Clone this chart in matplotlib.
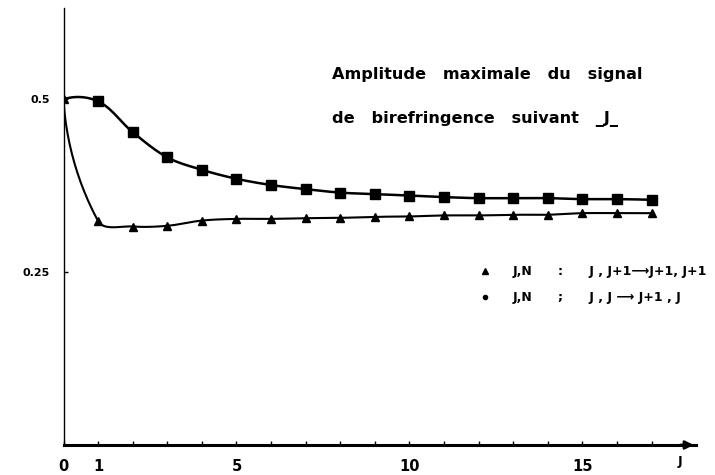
import numpy as np
import matplotlib
matplotlib.use("Agg")
import matplotlib.pyplot as plt

# ---- data ----
J = list(range(0, 18))
amp_JJ = [0.500, 0.497, 0.4525, 0.416, 0.398, 0.385, 0.376, 0.370, 0.365,
          0.3628, 0.3608, 0.3585, 0.357, 0.357, 0.357, 0.3556, 0.3556, 0.3546]
amp_JJ1 = [0.500, 0.324, 0.316, 0.317, 0.3246, 0.327, 0.327, 0.328, 0.3285,
           0.330, 0.3305, 0.332, 0.332, 0.333, 0.333, 0.3353, 0.3353, 0.3353]
xticks = [0, 1, 5, 10, 15]
yticks = [0.25, 0.5]
ytick_labels = ["0.25", "0.5"]
title_lines = ["Amplitude   maximale   du   signal", "de   birefringence   suivant   _J_"]
legend_labels = ["J,N      :      J , J+1\u27f6J+1, J+1", "J,N      ;      J , J \u27f6 J+1 , J"]

FONT = "DejaVu Sans"

fig = plt.figure(figsize=(7.15, 4.75), dpi=100)
ax = fig.add_axes([63.5 / 715, 30 / 475, 633 / 715, 437 / 475])
ax.set_xlim(0, 18.3)
ax.set_ylim(0, 0.632)

for s in ("top", "right"):
    ax.spines[s].set_visible(False)
ax.spines["left"].set_linewidth(1.0)
ax.spines["bottom"].set_linewidth(2.2)
ax.annotate("", xy=(1.0, 0), xytext=(0.97, 0), xycoords="axes fraction",
            arrowprops=dict(arrowstyle="-|>", color="black", lw=2.0,
                            mutation_scale=12))


def smooth_path(xs, ys):
    """Smooth curve through points: cubic Bezier, Catmull-Rom tangent directions in
    pixel space, end tangents reflected about the end chord."""
    pts = ax.transData.transform(np.column_stack([xs, ys]))
    n = len(pts)
    tang = [None] * n
    for i in range(1, n - 1):
        d = pts[i + 1] - pts[i - 1]
        tang[i] = d / np.linalg.norm(d)
    u = pts[1] - pts[0]
    u = u / np.linalg.norm(u)
    d = 2 * np.dot(u, tang[1]) * u - tang[1]
    tang[0] = d / np.linalg.norm(d)
    u = pts[-1] - pts[-2]
    u = u / np.linalg.norm(u)
    d = 2 * np.dot(u, tang[-2]) * u - tang[-2]
    tang[-1] = d / np.linalg.norm(d)
    out = []
    t = np.linspace(0, 1, 40)[:, None]
    for i in range(n - 1):
        p0, p3 = pts[i], pts[i + 1]
        L = np.linalg.norm(p3 - p0) / 3.0
        p1 = p0 + tang[i] * L
        p2 = p3 - tang[i + 1] * L
        seg = ((1 - t) ** 3) * p0 + 3 * ((1 - t) ** 2) * t * p1 + 3 * (1 - t) * t ** 2 * p2 + t ** 3 * p3
        out.append(seg if i == 0 else seg[1:])
    out = np.vstack(out)
    data = ax.transData.inverted().transform(out)
    return data[:, 0], data[:, 1]


sx, sy = smooth_path(J, amp_JJ)
ax.plot(sx, sy, color="black", lw=1.8, solid_capstyle="round")
ax.plot(J[1:], amp_JJ[1:], ls="none", marker="s", ms=6.5, color="black")

tx, ty = smooth_path(J, amp_JJ1)
ax.plot(tx, ty, color="black", lw=1.5, solid_capstyle="round")
ax.plot(J, amp_JJ1, ls="none", marker="^", ms=6.2, color="black")

ax.set_xticks(list(range(0, 18)), minor=True)
ax.set_xticks(xticks)
ax.set_xticklabels([str(v) for v in xticks], fontfamily=FONT, fontweight="bold", fontsize=10.5)
ax.tick_params(axis="x", which="both", direction="in", length=3, width=1, pad=10)
ax.set_yticks(yticks)
ax.set_yticklabels(ytick_labels, fontfamily=FONT, fontweight="bold", fontsize=8)
ax.tick_params(axis="y", which="both", direction="in", length=3, width=1, pad=10)

ax.text((680 - 63.5) / 633, -0.038, "J", transform=ax.transAxes, fontfamily=FONT,
        fontweight="bold", fontsize=9, ha="center", va="center")

# title block
fig.text(332 / 715, 1 - 75 / 475, title_lines[0], fontfamily=FONT, fontweight="bold",
         fontsize=11.6, ha="left", va="center")
fig.text(332 / 715, 1 - 119 / 475, title_lines[1], fontfamily=FONT, fontweight="bold",
         fontsize=11.6, ha="left", va="center")

# legend block
fig.lines.append(plt.Line2D([485 / 715], [1 - 271 / 475], marker="^", ms=5, color="black",
                            ls="none", transform=fig.transFigure))
fig.lines.append(plt.Line2D([485 / 715], [1 - 297 / 475], marker="o", ms=3, color="black",
                            ls="none", transform=fig.transFigure))
fig.text(513 / 715, 1 - 271 / 475, legend_labels[0], fontfamily=FONT, fontweight="bold",
         fontsize=9, ha="left", va="center")
fig.text(513 / 715, 1 - 297 / 475, legend_labels[1], fontfamily=FONT, fontweight="bold",
         fontsize=9, ha="left", va="center")

fig.savefig("out.png", dpi=100)
